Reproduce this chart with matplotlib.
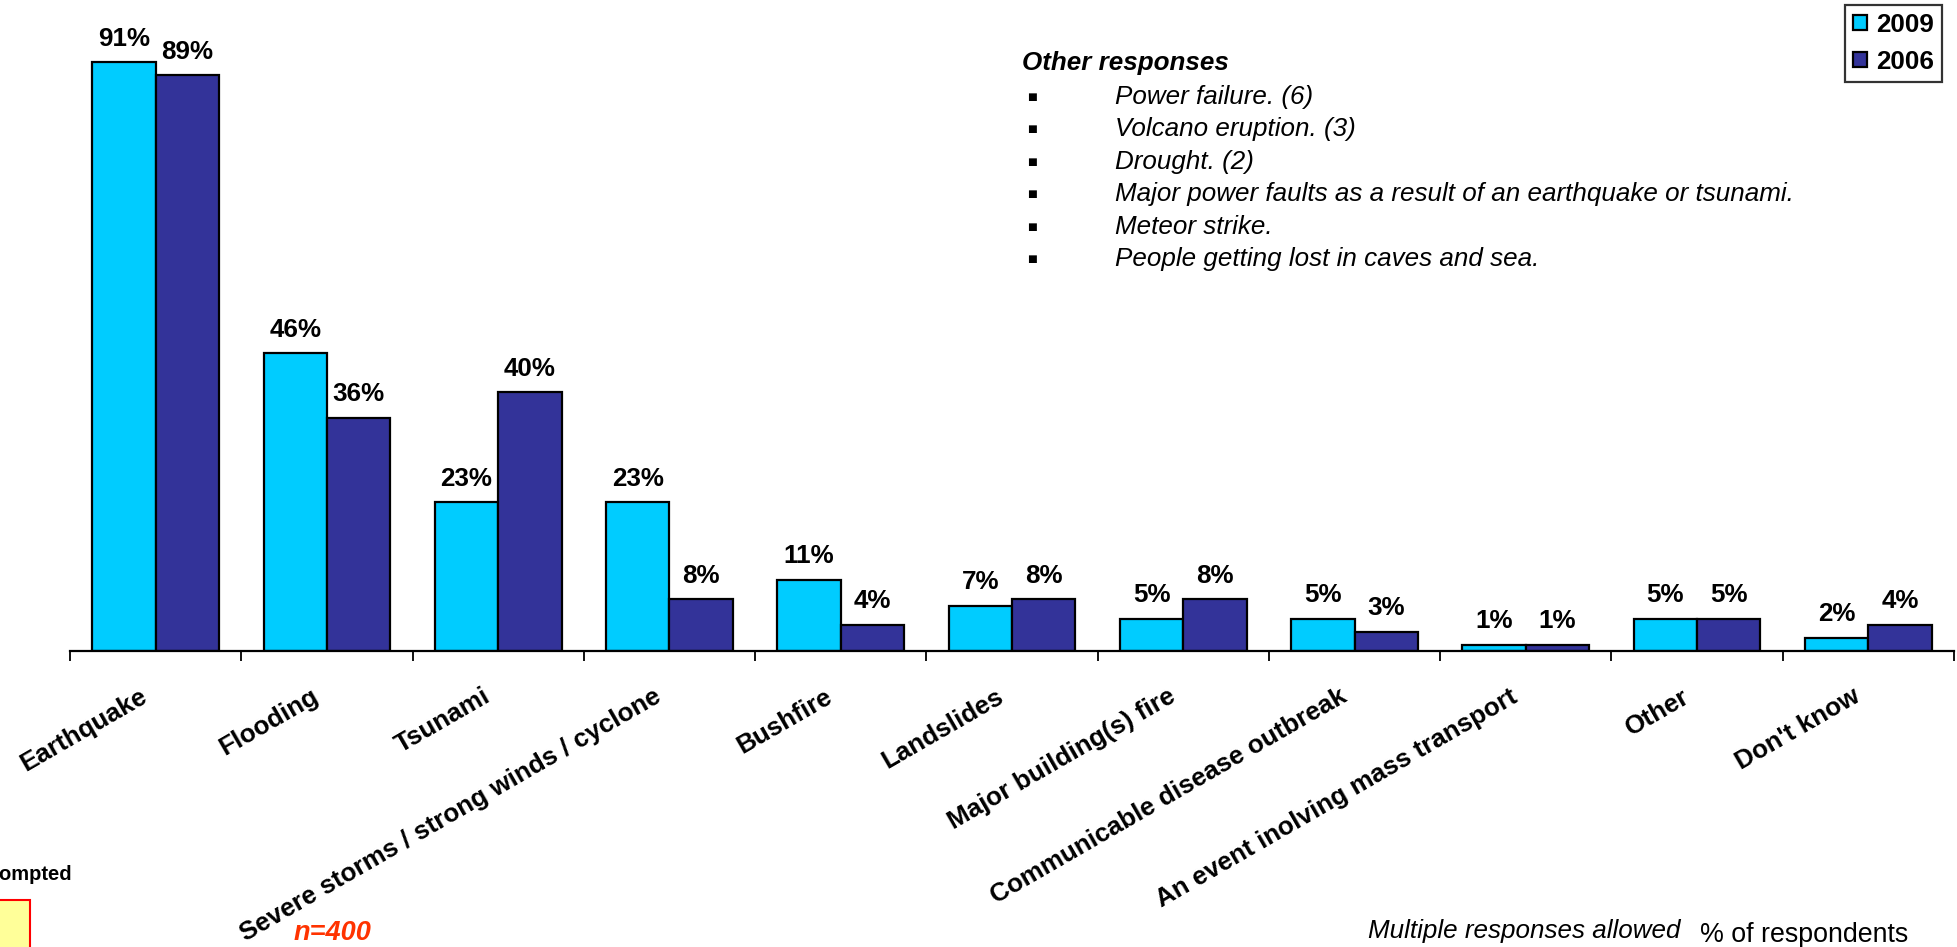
import matplotlib
matplotlib.use('Agg')
import matplotlib.pyplot as plt
from matplotlib.patches import Rectangle
from matplotlib.transforms import ScaledTranslation
import numpy as np

plt.rcParams['font.family'] = ['Liberation Sans', 'DejaVu Sans']

categories = ['Earthquake', 'Flooding', 'Tsunami', 'Severe storms / strong winds / cyclone',
              'Bushfire', 'Landslides', 'Major building(s) fire', 'Communicable disease outbreak',
              'An event inolving mass transport', 'Other', "Don't know"]
values_2009 = [91, 46, 23, 23, 11, 7, 5, 5, 1, 5, 2]
values_2006 = [89, 36, 40, 8, 4, 8, 8, 3, 1, 5, 4]
series_names = ['2009', '2006']
colors = ['#00CCFF', '#333399']
other_responses = ['Power failure. (6)', 'Volcano eruption. (3)', 'Drought. (2)',
                   'Major power faults as a result of an earthquake or tsunami.',
                   'Meteor strike.', 'People getting lost in caves and sea.']

W, H = 1958, 947
FS = 18.7
fig = plt.figure(figsize=(W / 100, H / 100), dpi=100)
ax = fig.add_axes([70 / W, (H - 651) / H, (1954 - 70) / W, 647 / H])

x = np.arange(len(categories))
bw = 0.37
b1 = ax.bar(x - bw / 2, values_2009, bw, color=colors[0], edgecolor='black', linewidth=1.6, label=series_names[0])
b2 = ax.bar(x + bw / 2, values_2006, bw, color=colors[1], edgecolor='black', linewidth=1.6, label=series_names[1])

for bars in (b1, b2):
    for rect in bars:
        h = rect.get_height()
        ax.annotate('{}%'.format(h), xy=(rect.get_x() + rect.get_width() / 2, h),
                    xytext=(0, 12), textcoords='offset points',
                    ha='center', va='baseline', fontsize=FS, fontweight='bold')

ax.set_xlim(-0.5, len(categories) - 0.5)
ax.set_ylim(0, 100)
for s in ['top', 'right', 'left']:
    ax.spines[s].set_visible(False)
ax.spines['bottom'].set_linewidth(1.6)
ax.set_yticks([])
ax.set_xticks(x)
ax.set_xticklabels(categories, rotation=30, ha='right', rotation_mode='anchor',
                   fontsize=FS, fontweight='bold')
ax.tick_params(axis='x', which='major', length=0, pad=24)
ax.set_xticks(np.arange(-0.5, len(categories)), minor=True)
ax.tick_params(axis='x', which='minor', length=7, width=1.3, direction='out')
# excel puts the rotated label end a little left of the category centre
shift = ScaledTranslation(-16 / 100, 0, fig.dpi_scale_trans)
for lab in ax.get_xticklabels():
    lab.set_transform(lab.get_transform() + shift)

leg = ax.legend(loc='upper right', bbox_to_anchor=(1942 / W, (H - 5) / H), bbox_transform=fig.transFigure,
                prop={'weight': 'bold', 'size': FS}, frameon=True, fancybox=False, borderaxespad=0,
                handlelength=0.55, handleheight=0.55, handletextpad=0.35, borderpad=0.3, labelspacing=0.5)
leg.get_frame().set_edgecolor('black')
leg.get_frame().set_linewidth(1.6)

# other responses block
fig.text(1022 / W, 1 - 63 / H, 'Other responses', fontsize=FS, fontweight='bold', style='italic', va='center')
for i, item in enumerate(other_responses):
    yy = 1 - (97 + i * 32.4) / H
    fig.text(1032 / W, yy, '\u25a0', fontsize=7.5, va='center', ha='center', family='DejaVu Sans')
    fig.text(1115 / W, yy, item, fontsize=FS, style='italic', va='center')

fig.text(1368 / W, 1 - 931 / H, 'Multiple responses allowed', fontsize=FS, style='italic', va='center')
fig.text(1700 / W, 1 - 935 / H, '% of respondents', fontsize=19.3, va='center')
fig.text(332 / W, 1 - 933 / H, 'n=400', fontsize=19.5, fontweight='bold', style='italic',
         color='#FF3300', ha='center', va='center')
fig.text(72 / W, 1 - 874 / H, 'Unprompted', fontsize=14.5, fontweight='bold', ha='right', va='center')
fig.patches.append(Rectangle((-20 / W, -10 / H), 50 / W, (47 + 10) / H, transform=fig.transFigure,
                             facecolor='#FFFF99', edgecolor='red', linewidth=1.5))

fig.savefig('out.png', dpi=100)
